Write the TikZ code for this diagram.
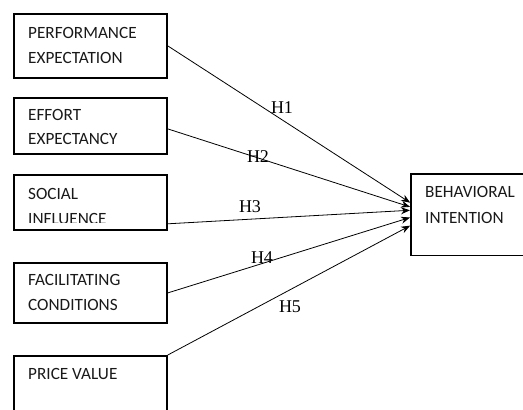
\documentclass[tikz,border=0pt]{standalone}
\usepackage{fontspec}
\setmainfont{Liberation Serif}
\newfontfamily\boxfont{Carlito}
\usetikzlibrary{arrows.meta,calc}
\begin{document}
\begin{tikzpicture}[x=1pt,y=-1pt,
  box/.style={draw, line width=1.8pt, inner sep=0pt, anchor=north west},
  lbl/.style={font=\boxfont\fontsize{17.2}{20}\selectfont, anchor=base west, inner sep=0pt, text=black!90},
  hyp/.style={font=\fontsize{18}{20}\selectfont, inner sep=0pt},
  arr/.style={-{Stealth[length=9pt,width=7pt]}, line width=0.8pt, shorten >=1pt}]
\useasboundingbox (0,0) rectangle (523,410);
\clip (0,0) rectangle (523,410);

% boxes
\node[box, minimum width=153pt, minimum height=64pt] (pe) at (13,13) {};
\node[box, minimum width=153pt, minimum height=56pt] (ee) at (13,97) {};
\node[box, minimum width=153pt, minimum height=55pt] (si) at (13,174) {};
\node[box, minimum width=153pt, minimum height=60pt] (fc) at (13,262) {};
\node[box, minimum width=153pt, minimum height=75pt] (pv) at (13,355) {};
\node[inner sep=0pt, anchor=north west, minimum width=200pt, minimum height=81pt] (bi) at (411,174) {};
\draw[line width=1.8pt] (bi.north east) -- (bi.north west) -- (bi.south west) -- (bi.south east);

% texts
\node[lbl] (pet1) at (28,38) {PERFORMANCE};
\node[lbl] (pet2) at (28,63) {EXPECTATION};
\node[lbl] (eet1) at (28,120) {EFFORT};
\node[lbl] (eet2) at (28,144) {EXPECTANCY};
\node[lbl] (sit1) at (28,199) {SOCIAL};
\begin{scope}
  \clip (14,175) rectangle (165,222);
  \node[lbl] (sit2) at (28,224) {INFLUENCE};
\end{scope}
\node[lbl] (fct1) at (28,285) {FACILITATING};
\node[lbl] (fct2) at (28,310) {CONDITIONS};
\node[lbl] (pvt1) at (28,379) {PRICE VALUE};
\node[lbl] (bit1) at (425,197) {BEHAVIORAL};
\node[lbl] (bit2) at (425,223) {INTENTION};

% arrow endpoints
\coordinate (s1) at (pe.east);
\coordinate (s2) at ($(ee.east)+(0,3)$);
\coordinate (s3) at ($(si.south east)+(0,-7)$);
\coordinate (s4) at (fc.east);
\coordinate (s5) at (pv.north east);
\coordinate (e1) at ($(bi.west)+(0,-11.5)$);
\coordinate (e2) at ($(bi.west)+(0,-7.5)$);
\coordinate (e3) at ($(bi.west)+(0,-4.5)$);
\coordinate (e4) at ($(bi.west)+(0,2.5)$);
\coordinate (e5) at ($(bi.west)+(0,10.5)$);

\draw[arr] (s1) -- (e1);
\draw[arr] (s2) -- (e2);
\draw[arr] (s3) -- (e3);
\draw[arr] (s4) -- (e4);
\draw[arr] (s5) -- (e5);

% hypothesis labels
\node[hyp] (h1) at (282,108) {H1};
\node[hyp] (h2) at (258,157) {H2};
\node[hyp] (h3) at (250,207) {H3};
\node[hyp] (h4) at (262,258) {H4};
\node[hyp] (h5) at (290,307) {H5};
\end{tikzpicture}
\end{document}
